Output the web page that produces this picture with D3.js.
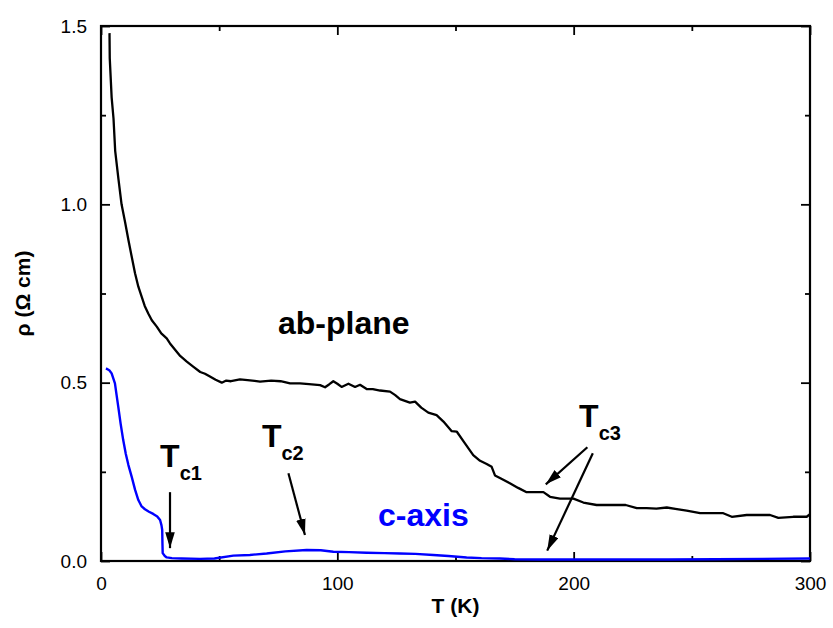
<!DOCTYPE html>
<html>
<head>
<meta charset="utf-8">
<title>Resistivity vs temperature</title>
<script src="https://cdn.jsdelivr.net/npm/d3@7"></script>
<style>
  body { margin: 0; background: #fff; }
  text { font-family: "Liberation Sans", Arial, sans-serif; }
  .tick text { font-size: 19px; fill: #000; }
</style>
</head>
<body>
<script>
// ---- data ----
var abT   = [3.6,3.7,4.5,5.3,6.0,7.4,8.7,10.2,11.6,13.0,14.4,15.8,17.2,18.5,20.0,21.5,23.6,25.5,27.8,29.2,31,33.5,36.3,39,42,44,46.1,48.5,51.1,53,55,58.8,62,65,67.3,72,76,80,84.2,88,92.7,94.8,96.5,98.3,100,101.8,104.7,107.5,109.6,112.4,115,118.1,122.3,124.5,126.5,130.7,132.9,135.5,138.5,142,144.9,148.4,150.5,154,157.5,160.4,163.2,165.3,166.7,169,173,176.5,180.1,187.2,190,194.2,199.9,204.1,209.7,222,226.7,230.9,235,239.4,243,247.8,253.5,263.3,266.9,273.2,283.1,286.6,292.9,298.6,300];
var abRho = [1.48,1.41,1.30,1.24,1.15,1.07,1.00,0.95,0.90,0.853,0.807,0.769,0.741,0.715,0.694,0.675,0.657,0.638,0.624,0.610,0.595,0.575,0.559,0.545,0.530,0.525,0.517,0.508,0.500,0.506,0.504,0.509,0.507,0.505,0.503,0.506,0.504,0.498,0.498,0.496,0.493,0.487,0.495,0.504,0.497,0.488,0.497,0.488,0.494,0.482,0.482,0.478,0.475,0.465,0.454,0.444,0.447,0.430,0.416,0.409,0.391,0.364,0.363,0.330,0.297,0.281,0.272,0.264,0.240,0.232,0.218,0.205,0.193,0.193,0.180,0.175,0.175,0.164,0.157,0.157,0.148,0.148,0.147,0.150,0.146,0.141,0.134,0.134,0.124,0.129,0.129,0.121,0.124,0.124,0.131];

var cT   = [2.1,3.5,4.5,5.9,6.6,7.3,8.3,9.4,10.5,11.6,13.0,14.4,15.8,17.2,18.6,20.3,22.1,23.8,25.0,25.6,25.9,26.0,26.1,27.0,27.8,30,34.1,41.9,48,56,63,70.1,78,87,93,98.3,105,112.4,120,126.5,133,140.6,147,154.7,161,168.8,175,185,200,220,240,260,280,300];
var cRho = [0.540,0.535,0.526,0.498,0.465,0.433,0.385,0.339,0.300,0.269,0.236,0.200,0.171,0.153,0.145,0.138,0.132,0.125,0.115,0.100,0.087,0.050,0.022,0.014,0.010,0.008,0.007,0.006,0.007,0.015,0.017,0.021,0.027,0.031,0.030,0.026,0.025,0.023,0.022,0.021,0.020,0.017,0.014,0.010,0.008,0.007,0.005,0.004,0.004,0.004,0.004,0.005,0.006,0.007];

var xMajor = [0, 100, 200, 300];
var xMinor = [50, 150, 250];
var yMajor = [0, 0.5, 1.0, 1.5];
var yMinor = [0.25, 0.75, 1.25];

// labels: [T, rho, main, sub]
var tcLabels = [[25, 0.264, "T", "c1"], [68.1, 0.320, "T", "c2"], [202.3, 0.376, "T", "c3"]];
// arrows: [T0, rho0, T1, rho1]
var arrows = [[29.2, 0.193, 29.2, 0.036], [79.3, 0.246, 86.3, 0.073], [205.8, 0.319, 188.2, 0.215], [208.1, 0.302, 188.8, 0.029]];

// ---- layout ----
var W = 833, H = 628;
var margin = {top: 26, right: 23, bottom: 67, left: 101};
var width = W - margin.left - margin.right;
var height = H - margin.top - margin.bottom;

var svg = d3.select("body").append("svg").attr("width", W).attr("height", H);

svg.append("defs").append("marker")
  .attr("id", "arrow")
  .attr("markerUnits", "userSpaceOnUse")
  .attr("viewBox", "0 -5 16 10")
  .attr("refX", 16).attr("refY", 0)
  .attr("markerWidth", 16).attr("markerHeight", 10)
  .attr("orient", "auto")
  .append("path").attr("d", "M0,-4.8L16,0L0,4.8Z").attr("fill", "#000");

var g = svg.append("g").attr("transform", "translate(" + margin.left + "," + margin.top + ")");

var x = d3.scaleLinear().domain([0, 300]).range([0, width]);
var y = d3.scaleLinear().domain([0, 1.5]).range([height, 0]);

function styleAxis(sel) {
  sel.select(".domain").remove();
  sel.selectAll(".tick line").attr("stroke", "#000").attr("stroke-width", 1.8);
}

// bottom
g.append("g").attr("transform", "translate(0," + height + ")")
  .call(d3.axisBottom(x).tickValues(xMajor).tickSize(-9).tickPadding(16).tickFormat(d3.format("d")))
  .call(styleAxis);
g.append("g").attr("transform", "translate(0," + height + ")")
  .call(d3.axisBottom(x).tickValues(xMinor).tickSize(-5).tickFormat(""))
  .call(styleAxis);
// top
g.append("g").call(d3.axisTop(x).tickValues(xMajor).tickSize(-9).tickFormat("")).call(styleAxis);
g.append("g").call(d3.axisTop(x).tickValues(xMinor).tickSize(-5).tickFormat("")).call(styleAxis);
// left
g.append("g")
  .call(d3.axisLeft(y).tickValues(yMajor).tickSize(-9).tickPadding(14).tickFormat(d3.format(".1f")))
  .call(styleAxis);
g.append("g").call(d3.axisLeft(y).tickValues(yMinor).tickSize(-5).tickFormat("")).call(styleAxis);
// right
g.append("g").attr("transform", "translate(" + width + ",0)")
  .call(d3.axisRight(y).tickValues(yMajor).tickSize(-9).tickFormat("")).call(styleAxis);
g.append("g").attr("transform", "translate(" + width + ",0)")
  .call(d3.axisRight(y).tickValues(yMinor).tickSize(-5).tickFormat("")).call(styleAxis);

// frame
g.append("rect").attr("width", width).attr("height", height)
  .attr("fill", "none").attr("stroke", "#000").attr("stroke-width", 2.2);

// curves
var line = d3.line().x(function(d) { return x(d[0]); }).y(function(d) { return y(d[1]); });

g.append("path").datum(d3.zip(abT, abRho))
  .attr("d", line).attr("fill", "none").attr("stroke", "#000").attr("stroke-width", 2.3)
  .attr("stroke-linejoin", "round");
g.append("path").datum(d3.zip(cT, cRho))
  .attr("d", line).attr("fill", "none").attr("stroke", "#0000ff").attr("stroke-width", 2.4)
  .attr("stroke-linejoin", "round");

// annotations
g.append("text").attr("x", x(74.9)).attr("y", y(0.636))
  .attr("font-size", 32).attr("font-weight", "bold").attr("fill", "#000").text("ab-plane");
g.append("text").attr("x", x(117.2)).attr("y", y(0.098))
  .attr("font-size", 32).attr("font-weight", "bold").attr("fill", "#0000ff").text("c-axis");

tcLabels.forEach(function(l) {
  var t = g.append("text").attr("x", x(l[0])).attr("y", y(l[1]))
    .attr("font-weight", "bold").attr("fill", "#000");
  t.append("tspan").attr("font-size", 32).text(l[2]);
  t.append("tspan").attr("font-size", 20).attr("dy", 13).text(l[3]);
});

g.selectAll(".arrow").data(arrows).enter().append("line")
  .attr("class", "arrow")
  .attr("x1", function(d) { return x(d[0]); }).attr("y1", function(d) { return y(d[1]); })
  .attr("x2", function(d) { return x(d[2]); }).attr("y2", function(d) { return y(d[3]); })
  .attr("stroke", "#000").attr("stroke-width", 2.2)
  .attr("marker-end", "url(#arrow)");

// axis titles
svg.append("text").attr("x", margin.left + width / 2).attr("y", 613)
  .attr("text-anchor", "middle").attr("font-size", 21).attr("font-weight", "bold")
  .text("T (K)");
svg.append("text")
  .attr("transform", "translate(30," + (margin.top + height / 2) + ") rotate(-90)")
  .attr("text-anchor", "middle").attr("font-size", 21).attr("font-weight", "bold")
  .text("ρ (Ω cm)");
</script>
</body>
</html>
